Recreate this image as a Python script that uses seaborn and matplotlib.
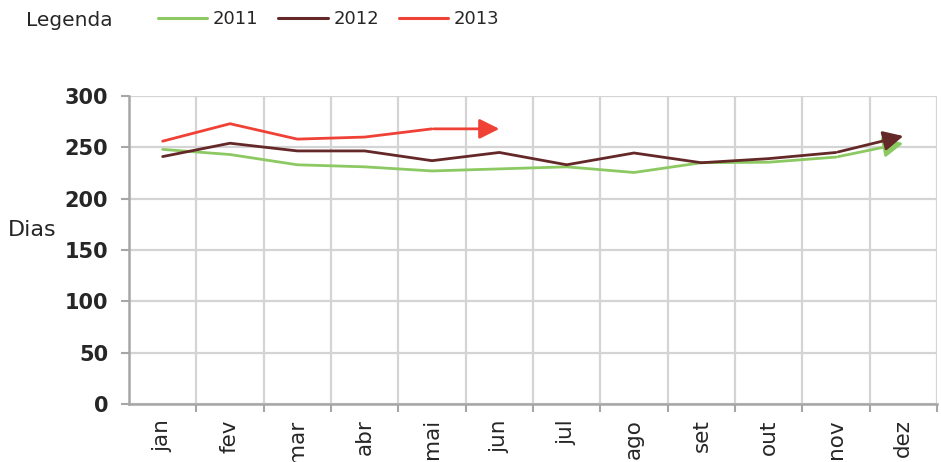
import numpy as np
import pandas as pd
import matplotlib
matplotlib.use("Agg")
import matplotlib.pyplot as plt
import seaborn as sns
from matplotlib.lines import Line2D

months = ["jan", "fev", "mar", "abr", "mai", "jun", "jul", "ago", "set", "out", "nov", "dez"]
years = ["2011", "2012", "2013"]
v2011 = [248, 243, 233, 231, 227, 229, 231, 225.5, 235, 235.5, 240.5, 254]
v2012 = [241, 254, 246.5, 246.5, 237, 245, 233, 244.5, 235, 239, 245, 261]
v2013 = [256, 273, 258, 260, 268, 268, None, None, None, None, None, None]
colors = {"2011": "#8cc963", "2012": "#652828", "2013": "#ef4136"}
y_ticks = [0, 50, 100, 150, 200, 250, 300]

sns.set_style("white")
plt.rcParams["font.family"] = ["DejaVu Sans"]

series = {"2011": v2011, "2012": v2012, "2013": v2013}
rows = []
arrows = {}
for yr in years:
    vals = [v for v in series[yr] if v is not None]
    n = len(vals)
    for i in range(n - 1):
        rows.append({"mes": i, "dias": vals[i], "ano": yr})
    arrows[yr] = ((n - 2, vals[n - 2]), (n - 1, vals[n - 1]))
df = pd.DataFrame(rows)

fig = plt.figure(figsize=(9.41, 4.62), dpi=100)
ax = fig.add_axes([129 / 941, 1 - 404 / 462, (937 - 129) / 941, (404 - 96) / 462])

sns.lineplot(data=df, x="mes", y="dias", hue="ano", palette=colors, ax=ax,
             linewidth=2.0, sort=False, legend=False, zorder=3)

for yr in years:
    (x0, y0), (x1, y1) = arrows[yr]
    ax.annotate("", xy=(x1, y1), xytext=(x0, y0),
                arrowprops=dict(arrowstyle="-|>,head_length=0.6,head_width=0.3",
                                color=colors[yr], lw=2.0, shrinkA=1.5, shrinkB=0,
                                mutation_scale=20),
                zorder=4)

ax.set_xlim(-0.5, 11.5)
ax.set_ylim(0, 300)
ax.set_yticks(y_ticks)
ax.set_yticklabels([str(t) for t in y_ticks], fontsize=15, fontweight="bold")
ax.set_xticks(range(12))
ax.set_xticklabels(months, rotation=90, fontsize=15.5)
ax.set_xticks(np.arange(0.5, 12, 1), minor=True)
ax.tick_params(axis="x", which="major", length=0, pad=11)
ax.tick_params(axis="x", which="minor", length=6, width=1.5, color="#a6a6a6", direction="out", bottom=True)
ax.tick_params(axis="y", which="major", length=6, width=1.5, color="#a6a6a6", direction="out", left=True, pad=9)
ax.grid(axis="y", which="major", color="#d4d4d4", lw=1.6)
ax.grid(axis="x", which="minor", color="#d4d4d4", lw=1.6)
ax.grid(axis="x", which="major", visible=False)
for s in ["top", "right"]:
    ax.spines[s].set_visible(False)
for s in ["left", "bottom"]:
    ax.spines[s].set_color("#a6a6a6")
    ax.spines[s].set_linewidth(1.8)
ax.set_xlabel("")
ax.set_ylabel("")
ax.set_axisbelow(True)

fig.text(8 / 941, 1 - 230 / 462, "Dias", fontsize=16, va="center", ha="left")

fig.text(26 / 941, 1 - 21 / 462, "Legenda", fontsize=14.5, va="center", ha="left")
handles = [Line2D([0], [0], color=colors[y], lw=2.2) for y in years]
fig.legend(handles, years, loc="center left", bbox_to_anchor=(158 / 941, 1 - 19 / 462),
           ncol=3, frameon=False, fontsize=13, handlelength=2.72, handletextpad=0.33,
           columnspacing=1.1, borderaxespad=0, borderpad=0)

fig.savefig("out.png", dpi=100)
